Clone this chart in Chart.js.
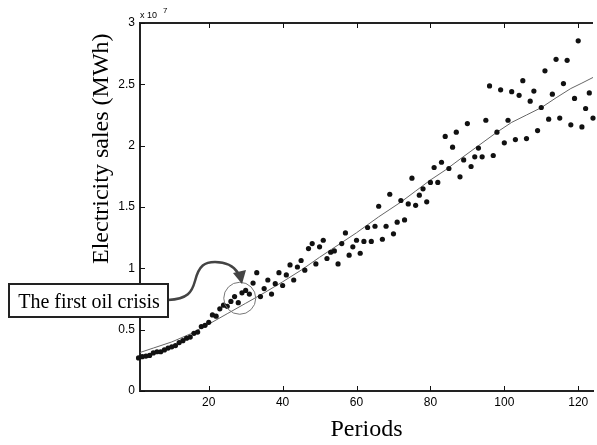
<!DOCTYPE html>
<html>
<head>
<meta charset="utf-8">
<script src="https://cdn.jsdelivr.net/npm/chart.js@4.4.1/dist/chart.umd.min.js"></script>
<style>
  html, body { margin: 0; padding: 0; background: #fff; }
  canvas { display: block; }
</style>
</head>
<body>
<canvas id="salesChart" width="597" height="445"></canvas>
<script>
// Electricity sales per period (x 10^7 MWh), periods 1..124
const sales = [
  0.27, 0.28, 0.285, 0.29, 0.31, 0.32, 0.32, 0.335, 0.35, 0.36,
  0.37, 0.395, 0.41, 0.43, 0.44, 0.47, 0.48, 0.525, 0.535, 0.56,
  0.62, 0.61, 0.67, 0.70, 0.69, 0.73, 0.77, 0.72, 0.80, 0.82,
  0.79, 0.88, 0.965, 0.77, 0.835, 0.905, 0.79, 0.875, 0.965, 0.86,
  0.946, 1.028, 0.905, 1.011, 1.064, 0.985, 1.161, 1.202, 1.036, 1.175,
  1.229, 1.08, 1.131, 1.142, 1.036, 1.202, 1.289, 1.107, 1.175, 1.229,
  1.123, 1.219, 1.333, 1.219, 1.343, 1.506, 1.237, 1.343, 1.604, 1.281,
  1.376, 1.553, 1.395, 1.525, 1.735, 1.514, 1.596, 1.648, 1.542, 1.70,
  1.822, 1.70, 1.865, 2.075, 1.814, 1.988, 2.11, 1.746, 1.884, 2.18,
  1.83, 1.909, 1.98, 1.909, 2.207, 2.487, 1.92, 2.11, 2.455, 2.023,
  2.207, 2.44, 2.05, 2.41, 2.53, 2.058, 2.363, 2.445, 2.123, 2.311,
  2.61, 2.216, 2.42, 2.704, 2.225, 2.506, 2.696, 2.17, 2.385, 2.855,
  2.153, 2.303, 2.43, 2.225
];

// fitted model line, read at a few periods
const fitPeriods = [1, 5, 10, 15, 20, 25, 30, 35, 40, 45, 50, 55, 60, 66, 72, 76, 80, 84, 88, 93, 98, 102, 106, 110, 114, 118, 121, 124];
const fitValues  = [0.31, 0.35, 0.40, 0.465, 0.545, 0.63, 0.715, 0.80, 0.89, 0.985, 1.09, 1.19, 1.29, 1.42, 1.54, 1.63, 1.72, 1.80, 1.89, 2.0, 2.11, 2.19, 2.25, 2.31, 2.39, 2.466, 2.51, 2.556];

const xTicks = [20, 40, 60, 80, 100, 120];
const yTicks = [0, 0.5, 1, 1.5, 2, 2.5, 3];

const annotationText = 'The first oil crisis';
const crisisPeriod = 28.4;
const crisisValue = 0.756;

const scatterPoints = sales.map((v, i) => ({ x: i + 1, y: v }));
const fitPoints = fitPeriods.map((p, i) => ({ x: p, y: fitValues[i] }));

const decorations = {
  id: 'decorations',
  afterDraw(chart) {
    const { ctx, chartArea: a, scales: { x, y } } = chart;
    ctx.save();

    // top frame line
    ctx.strokeStyle = '#222';
    ctx.lineWidth = 2;
    ctx.beginPath();
    ctx.moveTo(a.left - 1, a.top);
    ctx.lineTo(a.right, a.top);
    ctx.stroke();

    // inward tick marks
    ctx.strokeStyle = '#111';
    ctx.lineWidth = 1;
    ctx.beginPath();
    xTicks.forEach(v => {
      const px = Math.round(x.getPixelForValue(v)) + 0.5;
      ctx.moveTo(px, a.bottom);
      ctx.lineTo(px, a.bottom - 5);
      ctx.moveTo(px, a.top);
      ctx.lineTo(px, a.top + 5);
    });
    yTicks.forEach(v => {
      const py = Math.round(y.getPixelForValue(v)) + 0.5;
      ctx.moveTo(a.left, py);
      ctx.lineTo(a.left + 5, py);
    });
    ctx.stroke();

    // y axis title
    ctx.fillStyle = '#000';
    ctx.font = '24px "Liberation Serif", "Times New Roman", serif';
    ctx.save();
    ctx.translate(102, 264);
    ctx.rotate(-Math.PI / 2);
    ctx.textAlign = 'left';
    ctx.textBaseline = 'middle';
    ctx.fillText('Electricity sales (MWh)', 0, 0);
    ctx.restore();

    // exponent label
    ctx.textAlign = 'left';
    ctx.textBaseline = 'alphabetic';
    ctx.font = '9px "Liberation Sans", Arial, sans-serif';
    ctx.fillText('x 10', a.left, 18);
    ctx.font = '8px "Liberation Sans", Arial, sans-serif';
    ctx.fillText('7', a.left + 23, 13);

    // circle around the crisis points
    const cx = x.getPixelForValue(crisisPeriod);
    const cy = y.getPixelForValue(crisisValue);
    ctx.strokeStyle = '#777';
    ctx.lineWidth = 1;
    ctx.beginPath();
    ctx.arc(cx, cy, 16, 0, Math.PI * 2);
    ctx.stroke();

    // curved arrow from the label to the circle
    ctx.strokeStyle = '#444';
    ctx.lineWidth = 2.5;
    ctx.beginPath();
    ctx.moveTo(168, 300);
    ctx.bezierCurveTo(188, 299, 192, 292, 195, 281);
    ctx.bezierCurveTo(199, 265, 205, 262, 215, 262);
    ctx.bezierCurveTo(226, 262, 233, 265, 238, 273);
    ctx.stroke();
    ctx.fillStyle = '#444';
    ctx.beginPath();
    ctx.moveTo(233, 273);
    ctx.lineTo(246, 270);
    ctx.lineTo(242, 284);
    ctx.closePath();
    ctx.fill();

    // label box
    ctx.fillStyle = '#fff';
    ctx.fillRect(9, 284, 159, 33);
    ctx.strokeStyle = '#222';
    ctx.lineWidth = 2;
    ctx.strokeRect(9, 284, 159, 33);
    ctx.fillStyle = '#000';
    ctx.font = '20px "Liberation Serif", "Times New Roman", serif';
    ctx.textAlign = 'center';
    ctx.textBaseline = 'alphabetic';
    ctx.fillText(annotationText, 89, 308);

    ctx.restore();
  }
};

const tickFont = { family: '"Liberation Sans", Arial, sans-serif', size: 12 };

new Chart(document.getElementById('salesChart'), {
  type: 'scatter',
  data: {
    datasets: [
      {
        label: 'Sales',
        data: scatterPoints,
        pointRadius: 2.6,
        pointBackgroundColor: '#111',
        pointBorderWidth: 0,
        showLine: false,
        clip: false
      },
      {
        label: 'Fit',
        type: 'line',
        data: fitPoints,
        borderColor: '#666',
        borderWidth: 1,
        pointRadius: 0,
        tension: 0,
        fill: false
      }
    ]
  },
  options: {
    responsive: false,
    animation: false,
    layout: { padding: { top: 23, right: 0, bottom: 0, left: 0 } },
    plugins: {
      legend: { display: false },
      tooltip: { enabled: false }
    },
    scales: {
      x: {
        type: 'linear',
        position: 'bottom',
        min: 1.4,
        max: 124,
        grid: { display: false, drawTicks: false },
        border: { display: true, color: '#222', width: 2 },
        afterBuildTicks: scale => { scale.ticks = xTicks.map(v => ({ value: v })); },
        afterFit: scale => { scale.height = 54; },
        ticks: {
          color: '#000',
          font: tickFont,
          padding: 4,
          maxRotation: 0,
          callback: v => String(v)
        },
        title: {
          display: true,
          text: 'Periods',
          color: '#000',
          font: { family: '"Liberation Serif", "Times New Roman", serif', size: 24 },
          padding: { top: 0, bottom: 1 }
        }
      },
      y: {
        type: 'linear',
        min: 0,
        max: 3,
        grid: { display: false, drawTicks: false },
        border: { display: true, color: '#222', width: 2 },
        afterBuildTicks: scale => { scale.ticks = yTicks.map(v => ({ value: v })); },
        afterFit: scale => { scale.width = 140; },
        ticks: {
          color: '#000',
          font: tickFont,
          padding: 5,
          callback: v => String(v)
        }
      }
    }
  },
  plugins: [decorations]
});
</script>
</body>
</html>
